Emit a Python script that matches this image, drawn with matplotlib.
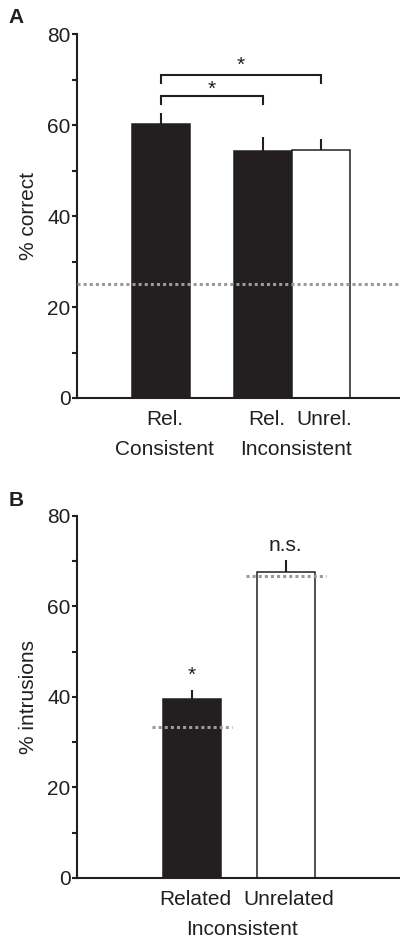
import numpy as np
import matplotlib
matplotlib.use('Agg')
import matplotlib.pyplot as plt

plt.rcParams['font.family'] = ['Liberation Sans', 'DejaVu Sans']

# Panel A: % correct
a_pos = [0.0, 1.76, 2.76]
a_vals = [60.2, 54.3, 54.6]
a_err = [2.5, 3.0, 2.3]
a_fill = ['#231f20', '#231f20', 'white']
a_top = ['Rel.', 'Rel.', 'Unrel.']
a_bottom = ['Consistent', 'Inconsistent']
a_chance = 25.0

# Panel B: % intrusions
b_pos = [0.0, 1.62]
b_vals = [39.5, 67.6]
b_err = [2.0, 2.6]
b_fill = ['#231f20', 'white']
b_top = ['Related', 'Unrelated']
b_bottom = ['Inconsistent']
b_chance = [33.3, 66.7]
b_marks = ['*', 'n.s.']

ink = '#231f20'
grey = '#9a9a9a'
fs = 15

fig = plt.figure(figsize=(4.0, 9.4), dpi=100)
axA = fig.add_axes([0.1925, 0.5766, 0.8075, 0.3872])
axB = fig.add_axes([0.1925, 0.0660, 0.8075, 0.3851])


def style(ax, ylabel):
    for s in ['top', 'right']:
        ax.spines[s].set_visible(False)
    for s in ['left', 'bottom']:
        ax.spines[s].set_linewidth(1.5)
        ax.spines[s].set_color(ink)
    ax.set_ylim(0, 80)
    ax.set_yticks([0, 20, 40, 60, 80])
    ax.set_yticks([10, 30, 50, 70], minor=True)
    ax.tick_params(axis='y', which='both', direction='out', length=3.5,
                   width=1.5, color=ink, labelsize=fs, labelcolor=ink, pad=1)
    ax.set_xticks([])
    ax.set_ylabel(ylabel, fontsize=fs, color=ink, labelpad=7)


def under(ax, x, text, row):
    dy = -15.8 if row == 0 else -37.4
    ax.annotate(text, xy=(x, 0), xycoords=('data', 'axes fraction'),
                xytext=(2.5, dy), textcoords='offset points',
                ha='center', va='center', fontsize=fs, color=ink)


# ---- A ----
style(axA, '% correct')
axA.set_xlim(-1.448, 4.12)
axA.bar(a_pos, a_vals, width=1.0, color=a_fill, edgecolor=ink, linewidth=1.1, zorder=2)
axA.vlines(a_pos, a_vals, np.array(a_vals) + np.array(a_err), color=ink, lw=1.5, zorder=2)
axA.axhline(a_chance, color=grey, lw=2.2, dashes=(1, 1), zorder=3)

# significance brackets
for x0, x1, yb, ys in [(a_pos[0], a_pos[1], 66.4, 67.9), (a_pos[0], a_pos[2], 71.0, 73.2)]:
    axA.plot([x0, x0, x1, x1], [yb - 1.7, yb, yb, yb - 1.7], color=ink, lw=1.5,
             solid_joinstyle='miter', clip_on=False)
    axA.text((x0 + x1) / 2, ys, '*', ha='center', va='center', fontsize=fs, color=ink)

for x, t in zip(a_pos, a_top):
    under(axA, x, t, 0)
under(axA, a_pos[0], a_bottom[0], 1)
under(axA, (a_pos[1] + a_pos[2]) / 2, a_bottom[1], 1)

# ---- B ----
style(axB, '% intrusions')
axB.set_xlim(-1.98, 3.59)
axB.bar(b_pos, b_vals, width=1.0, color=b_fill, edgecolor=ink, linewidth=1.1, zorder=2)
axB.vlines(b_pos, b_vals, np.array(b_vals) + np.array(b_err), color=ink, lw=1.5, zorder=2)
for x, c in zip(b_pos, b_chance):
    axB.plot([x - 0.69, x + 0.69], [c, c], color=grey, lw=2.2, dashes=(1, 1), zorder=3)
for x, v, e, m in zip(b_pos, b_vals, b_err, b_marks):
    axB.text(x, v + e + 3.2, m, ha='center', va='center', fontsize=fs, color=ink)

for x, t in zip(b_pos, b_top):
    under(axB, x, t, 0)
under(axB, (b_pos[0] + b_pos[1]) / 2, b_bottom[0], 1)

fig.text(0.041, 0.981, 'A', fontsize=fs, fontweight='bold', ha='center', va='center', color=ink)
fig.text(0.041, 0.468, 'B', fontsize=fs, fontweight='bold', ha='center', va='center', color=ink)

fig.savefig('out.png', dpi=100)
